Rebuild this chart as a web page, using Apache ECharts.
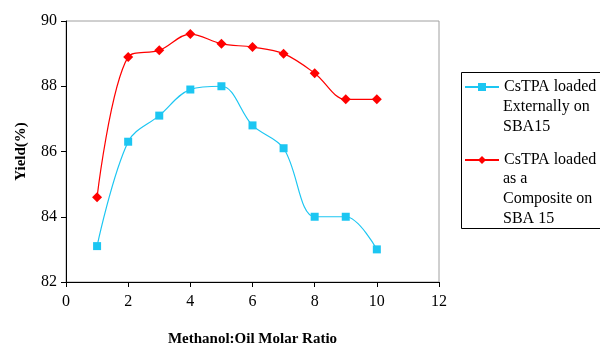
<!DOCTYPE html>
<html><head><meta charset="utf-8">
<script src="https://cdn.jsdelivr.net/npm/echarts@6/dist/echarts.min.js"></script>
<style>html,body{margin:0;padding:0;background:#fff}#c{width:600px;height:347px}</style>
</head><body><div id="c"></div>
<script>
const xValues = [1, 2, 3, 4, 5, 6, 7, 8, 9, 10];
const externalYield = [83.1, 86.3, 87.1, 87.9, 88.0, 86.8, 86.1, 84.0, 84.0, 83.0];
const compositeYield = [84.6, 88.9, 89.1, 89.6, 89.3, 89.2, 89.0, 88.4, 87.6, 87.6];
const seriesNames = ['CsTPA loaded\nExternally on\nSBA15', 'CsTPA loaded\nas a\nComposite on\nSBA 15'];
const xAxisTitle = 'Methanol:Oil Molar Ratio';
const yAxisTitle = 'Yield(%)';

const font = 'Liberation Serif';
const legendFontSize = 16;
const chart = echarts.init(document.getElementById('c'), null, {renderer: 'canvas'});
const legendBase = {
  orient: 'vertical', left: 464, itemWidth: 34, itemHeight: 10, padding: 0,
  selectedMode: false,
  formatter: name => name.split('\n')[0],
  textStyle: {fontFamily: font, fontSize: legendFontSize, color: '#000', lineHeight: 20}
};
// continuation lines of the legend labels, laid out below each first line
const legendTexts = [];
[[seriesNames[0], 87], [seriesNames[1], 159]].forEach(([name, y0]) => {
  name.split('\n').slice(1).forEach((line, k) => {
    legendTexts.push({
      type: 'text', left: 503, top: y0 + 20 * (k + 1) - 10, silent: true,
      style: {text: line, font: legendFontSize + 'px "' + font + '"', fill: '#000', lineHeight: 20}
    });
  });
});
chart.setOption({
  animation: false,
  backgroundColor: '#fff',
  grid: {left: 66, right: 161, top: 21, bottom: 65, show: true, borderColor: '#a0a0a0', borderWidth: 1,
         outerBoundsMode: 'none', containLabel: false},
  xAxis: {
    type: 'value', min: 0, max: 12, interval: 2,
    name: xAxisTitle, nameLocation: 'middle', nameGap: 50,
    nameTextStyle: {fontFamily: font, fontSize: 15, fontWeight: 'bold', color: '#000'},
    axisLine: {lineStyle: {color: '#000', width: 1}},
    axisTick: {show: true, length: 5, lineStyle: {color: '#000'}},
    axisLabel: {fontFamily: font, fontSize: 16, color: '#000', margin: 12},
    splitLine: {show: false}
  },
  yAxis: {
    type: 'value', min: 82, max: 90, interval: 2,
    name: yAxisTitle, nameLocation: 'middle', nameGap: 37,
    nameTextStyle: {fontFamily: font, fontSize: 15, fontWeight: 'bold', color: '#000'},
    axisLine: {show: true, lineStyle: {color: '#000', width: 1}},
    axisTick: {show: true, length: 5, lineStyle: {color: '#000'}},
    axisLabel: {fontFamily: font, fontSize: 16, color: '#000', margin: 9},
    splitLine: {show: false}
  },
  legend: [
    Object.assign({}, legendBase, {top: 77, data: [seriesNames[0]]}),
    Object.assign({}, legendBase, {top: 150, data: [seriesNames[1]]})
  ],
  graphic: [{
    type: 'rect', left: 459, top: 70, silent: true,
    shape: {width: 160, height: 156},
    style: {fill: 'none', stroke: '#000', lineWidth: 1}
  }].concat(legendTexts),
  series: [
    {
      name: seriesNames[0], type: 'line', smooth: 0.35,
      data: xValues.map((x, i) => [x, externalYield[i]]),
      symbol: 'rect', symbolSize: 8,
      lineStyle: {color: '#1cc6f2', width: 1.2},
      itemStyle: {color: '#1cc6f2'}
    },
    {
      name: seriesNames[1], type: 'line', smooth: 0.35,
      data: xValues.map((x, i) => [x, compositeYield[i]]),
      symbol: 'diamond', symbolSize: 10,
      lineStyle: {color: '#ff0000', width: 1.2},
      itemStyle: {color: '#ff0000'}
    }
  ]
});
</script>
</body></html>
